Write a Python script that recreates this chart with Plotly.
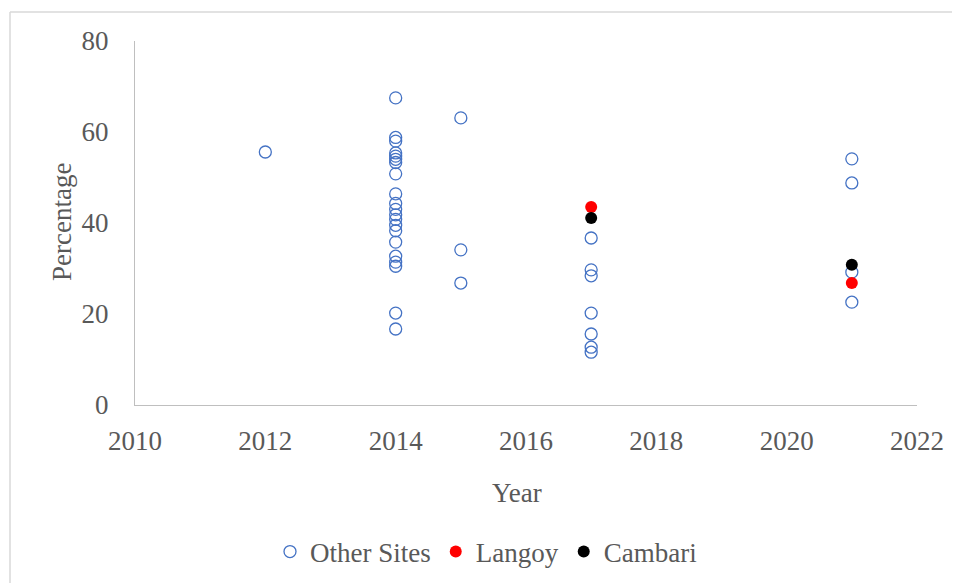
import plotly.graph_objects as go

other_years = [2012] + [2014]*21 + [2015]*3 + [2017]*7 + [2021]*4
other_vals = [55.6,
              67.5, 58.8, 58.0, 55.4, 54.7, 54.0, 53.3, 50.8, 46.4, 44.3, 43.0,
              41.8, 40.8, 39.5, 38.3, 35.8, 32.7, 31.4, 30.5, 20.2, 16.7,
              63.1, 34.1, 26.8,
              36.7, 29.7, 28.4, 20.2, 15.6, 12.7, 11.6,
              54.1, 48.8, 29.2, 22.6]
langoy_years = [2017, 2021]
langoy_vals = [43.5, 26.8]
cambari_years = [2017, 2021]
cambari_vals = [41.1, 30.8]

x_ticks = [2010, 2012, 2014, 2016, 2018, 2020, 2022]
y_ticks = [0, 20, 40, 60, 80]

FONT = "Liberation Serif, Times New Roman, serif"
GRAY = "#595959"
FS = 27

fig = go.Figure()
fig.add_trace(go.Scatter(x=other_years, y=other_vals, mode="markers", name="Other Sites",
                         marker=dict(symbol="circle-open", size=12, color="#4472C4",
                                     line=dict(width=1.3, color="#4472C4"))))
fig.add_trace(go.Scatter(x=langoy_years, y=langoy_vals, mode="markers", name="Langoy",
                         marker=dict(symbol="circle", size=12, color="#FF0000")))
fig.add_trace(go.Scatter(x=cambari_years, y=cambari_vals, mode="markers", name="Cambari",
                         marker=dict(symbol="circle", size=12, color="#000000")))

# page body has an 8px margin; work in screenshot pixels and convert
OFF = 8
L, R, T, B = 135, 917, 41, 405
W, H = 960 - OFF, 583 - OFF
pw, ph = R - L, B - T

def px(x):
    return (x - L) / pw

def py(y):
    return (B - y) / ph

fig.update_layout(
    width=W, height=H,
    margin=dict(l=L - OFF, r=960 - R, t=T - OFF, b=583 - B),
    paper_bgcolor="white", plot_bgcolor="white",
    font=dict(family=FONT, size=FS, color=GRAY),
    showlegend=True,
    legend=dict(orientation="h", xref="container", yref="container",
                x=(270 - OFF) / W, xanchor="left", y=(583 - 552) / H, yanchor="middle",
                font=dict(family=FONT, size=FS, color=GRAY), itemwidth=30,
                tracegroupgap=0, bgcolor="rgba(0,0,0,0)"),
    xaxis=dict(range=[2010, 2022], tickvals=x_ticks, ticktext=[str(v) for v in x_ticks],
               showgrid=False, zeroline=False, showline=True, linecolor="#BFBFBF",
               linewidth=1.3, ticks="", ticklabelstandoff=11, automargin=False,
               tickfont=dict(family=FONT, size=FS, color=GRAY)),
    yaxis=dict(range=[0, 80], tickvals=y_ticks, showgrid=False, zeroline=False,
               showline=True, linecolor="#BFBFBF", linewidth=1.3, ticks="",
               ticklabelstandoff=20, automargin=False,
               tickfont=dict(family=FONT, size=FS, color=GRAY)),
    annotations=[
        dict(text="Year", x=px(517), y=py(493), xref="paper", yref="paper",
             xanchor="center", yanchor="middle",
             showarrow=False, font=dict(family=FONT, size=FS, color=GRAY)),
        dict(text="Percentage", x=px(62), y=py(222), xref="paper", yref="paper",
             xanchor="center", yanchor="middle",
             showarrow=False, textangle=-90, font=dict(family=FONT, size=FS, color=GRAY)),
    ],
    shapes=[
        dict(type="line", xref="paper", yref="paper", x0=px(10), x1=px(962), y0=py(12), y1=py(12),
             line=dict(color="#D9D9D9", width=1.5)),
        dict(type="line", xref="paper", yref="paper", x0=px(10), x1=px(10), y0=py(12), y1=py(585),
             line=dict(color="#D9D9D9", width=1.5)),
    ],
)

fig.write_html("out.html")
